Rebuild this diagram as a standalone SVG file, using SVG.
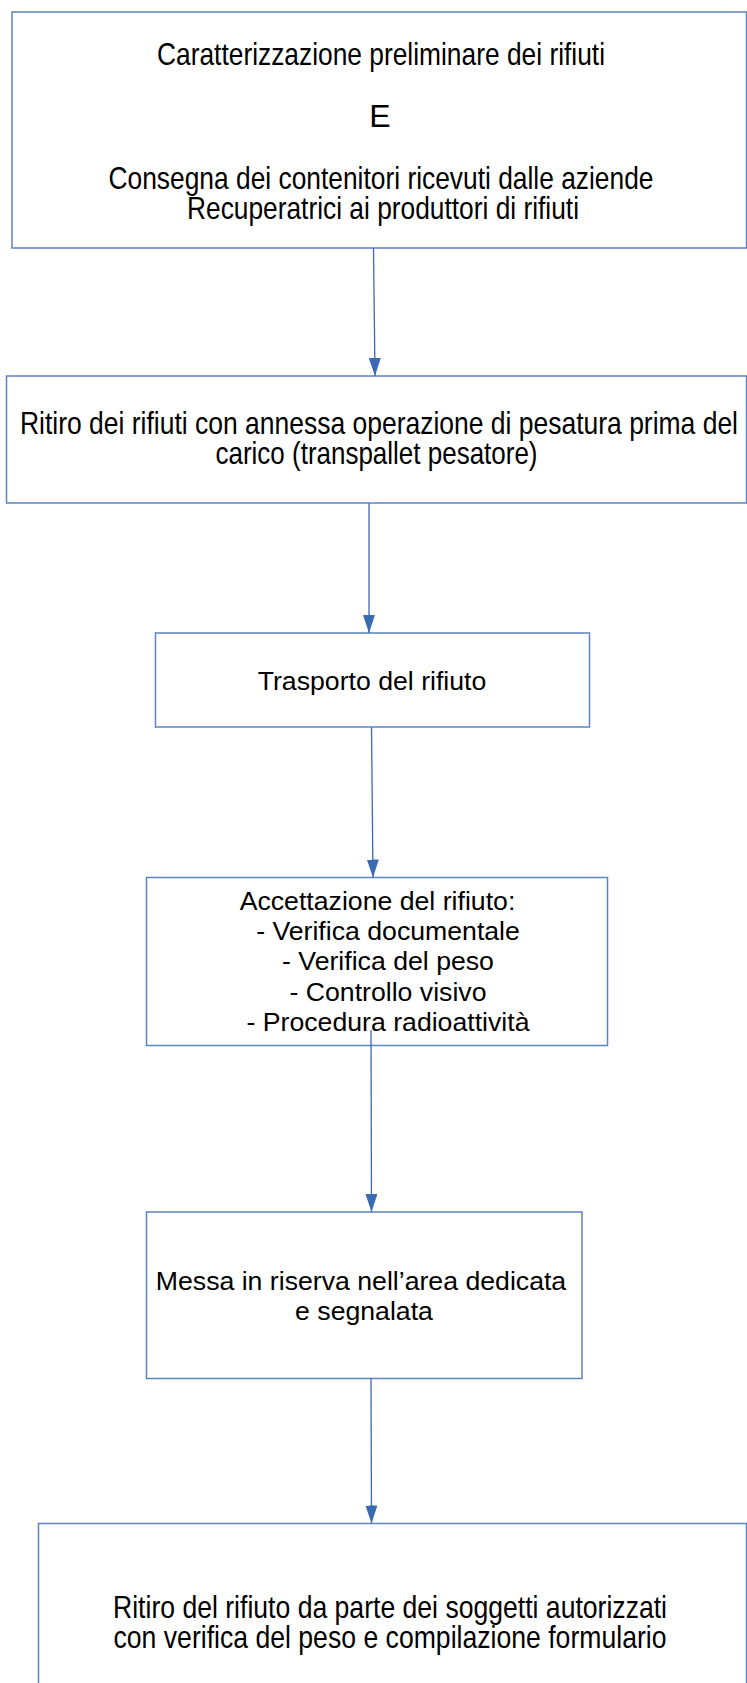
<svg xmlns="http://www.w3.org/2000/svg" width="747" height="1683" viewBox="0 0 747 1683">
  <style>
    .box { fill: #ffffff; stroke: #5b84c4; stroke-width: 1.5; }
    .n { font-family: "Liberation Sans Narrow", "Arial Narrow", "Liberation Sans", Arial, sans-serif; font-size: 32px; fill: #000; text-anchor: middle; }
    .r { font-family: "Liberation Sans", Arial, sans-serif; font-size: 26.67px; fill: #000; text-anchor: middle; }
    .conn { stroke: #3a6bb0; stroke-width: 1.3; fill: none; marker-end: url(#arrow); }
  </style>
  <defs>
    <marker id="arrow" markerUnits="userSpaceOnUse" markerWidth="18" markerHeight="12" refX="18" refY="6" orient="auto">
      <path d="M0,0 L18,6 L0,12 Z" fill="#3a6bb0"/>
    </marker>
  </defs>
  <rect x="0" y="0" width="747" height="1683" fill="#ffffff"/>

  <g id="node1">
    <rect class="box" x="12" y="12" width="734.5" height="236"/>
    <text class="n" x="381" y="65" textLength="448" lengthAdjust="spacingAndGlyphs">Caratterizzazione preliminare dei rifiuti</text>
    <text class="n" x="380" y="127">E</text>
    <text class="n" x="381" y="189" textLength="545" lengthAdjust="spacingAndGlyphs">Consegna dei contenitori ricevuti dalle aziende</text>
    <text class="n" x="383" y="219" textLength="392" lengthAdjust="spacingAndGlyphs">Recuperatrici ai produttori di rifiuti</text>
  </g>

  <g id="node2">
    <rect class="box" x="6.5" y="376" width="740" height="127"/>
    <text class="n" x="379" y="434" textLength="718" lengthAdjust="spacingAndGlyphs">Ritiro dei rifiuti con annessa operazione di pesatura prima del</text>
    <text class="n" x="376.5" y="464" textLength="322" lengthAdjust="spacingAndGlyphs">carico (transpallet pesatore)</text>
  </g>

  <g id="node3">
    <rect class="box" x="155.5" y="633" width="434" height="94"/>
    <text class="r" x="372" y="690">Trasporto del rifiuto</text>
  </g>

  <g id="node4">
    <rect class="box" x="146.5" y="877.5" width="461" height="168"/>
    <text class="r" x="377.5" y="910">Accettazione del rifiuto:</text>
    <text class="r" x="388" y="940">- Verifica documentale</text>
    <text class="r" x="388" y="970">- Verifica del peso</text>
    <text class="r" x="388" y="1001">- Controllo visivo</text>
    <text class="r" x="388" y="1031">- Procedura radioattività</text>
  </g>

  <g id="node5">
    <rect class="box" x="146.5" y="1212" width="435.5" height="166.5"/>
    <text class="r" x="361" y="1290">Messa in riserva nell’area dedicata</text>
    <text class="r" x="364" y="1320">e segnalata</text>
  </g>

  <g id="node6">
    <rect class="box" x="38.5" y="1523.5" width="708" height="180"/>
    <text class="n" x="390" y="1618" textLength="554" lengthAdjust="spacingAndGlyphs">Ritiro del rifiuto da parte dei soggetti autorizzati</text>
    <text class="n" x="390" y="1648" textLength="553" lengthAdjust="spacingAndGlyphs">con verifica del peso e compilazione formulario</text>
  </g>

  <g id="connectors">
    <line class="conn" x1="373.5" y1="248" x2="375" y2="376"/>
    <line class="conn" x1="369" y1="503" x2="369" y2="633"/>
    <line class="conn" x1="371.5" y1="727" x2="373" y2="877.5"/>
    <line class="conn" x1="371" y1="1030" x2="371.5" y2="1212"/>
    <line class="conn" x1="371" y1="1378.5" x2="371.5" y2="1523.5"/>
  </g>
</svg>
